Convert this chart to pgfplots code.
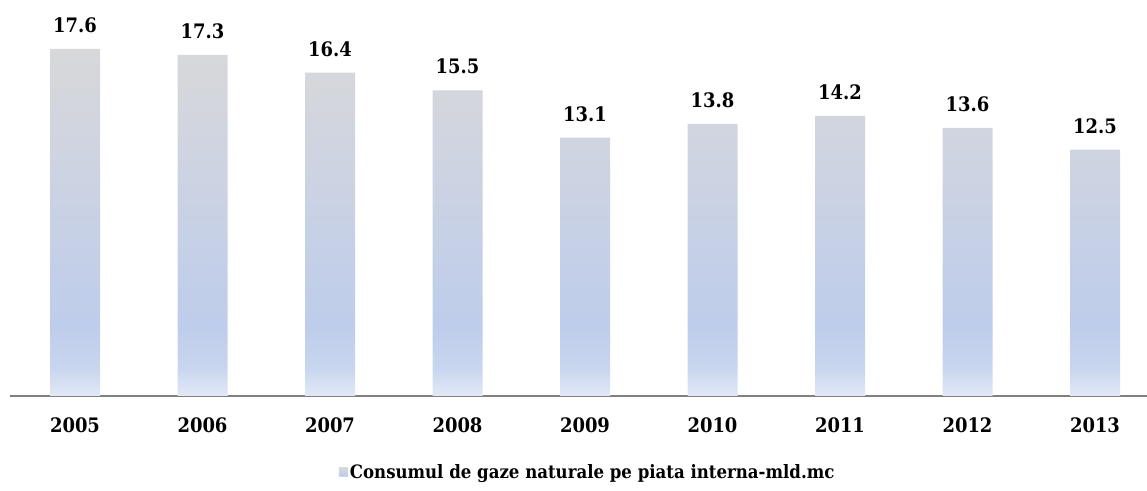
\documentclass[border=0pt]{standalone}
\usepackage{pgfplots}
\pgfplotsset{compat=1.18}
\usepackage{fontspec}
\newfontfamily\lblfont{DejaVuSerifCondensed-Bold.ttf}
\definecolor{btop}{RGB}{216,216,218}
\definecolor{bmid}{RGB}{190,205,235}
\definecolor{bbot}{RGB}{226,233,247}
\definecolor{axisgray}{RGB}{128,128,128}
\definecolor{legblue}{RGB}{190,204,232}
\pgfdeclareverticalshading{barshade}{100bp}{color(0bp)=(bbot); color(25bp)=(bbot); color(29bp)=(bmid!70!bbot); color(35bp)=(bmid); color(75bp)=(btop); color(100bp)=(btop)}
\begin{document}
\begin{tikzpicture}
\useasboundingbox (0,0) rectangle (1147bp,491bp);
\begin{axis}[
  at={(10bp,95bp)}, anchor=south west,
  scale only axis, width=1137.3bp, height=364.8bp,
  xmin=-0.51, xmax=8.41, ymin=0, ymax=18.5,
  axis x line=bottom, axis y line=none,
  x axis line style={-, draw=axisgray, line width=1.3bp},
  xtick=data, xticklabels={2005,2006,2007,2008,2009,2010,2011,2012,2013},
  major tick length=0pt,
  xticklabel style={font=\lblfont\fontsize{20}{24}\selectfont, anchor=north, inner sep=0pt, yshift=-21.7bp},
  ybar, bar width=50bp,
  nodes near coords, point meta=explicit symbolic,
  nodes near coords style={font=\lblfont\fontsize{20}{24}\selectfont, inner sep=0pt, yshift=16bp},
  legend style={at={(0.508,-0.208)}, anchor=center, draw=none, fill=none, inner sep=0pt,
    font=\lblfont\fontsize{18.5}{21}\selectfont},
]
\addplot[draw=none, shading=barshade,
  legend image code/.code={\fill[legblue] (-4bp,-5bp) rectangle (5bp,4bp);}]
  coordinates {(0,17.6) [17.6] (1,17.3) [17.3] (2,16.4) [16.4] (3,15.5) [15.5] (4,13.1) [13.1]
               (5,13.8) [13.8] (6,14.2) [14.2] (7,13.6) [13.6] (8,12.5) [12.5]};
\addlegendentry{Consumul de gaze naturale pe piata interna-mld.mc}
\end{axis}
\end{tikzpicture}
\end{document}
